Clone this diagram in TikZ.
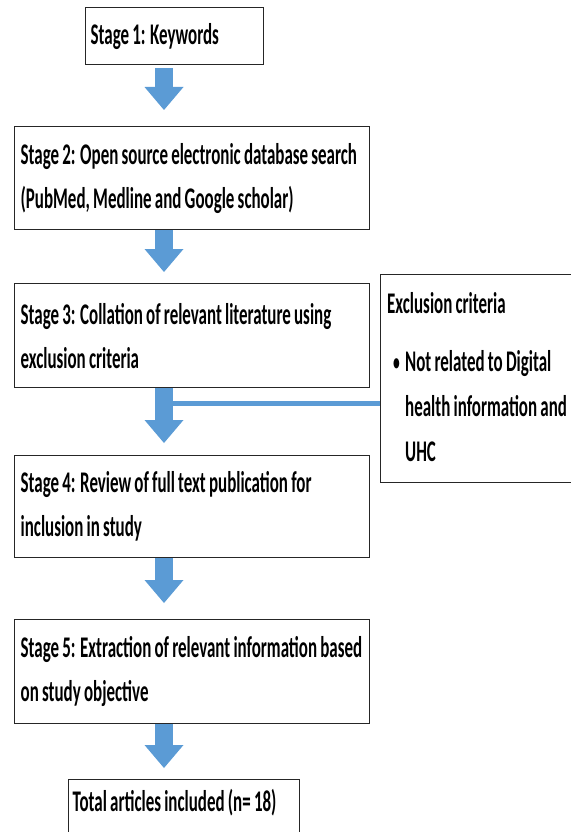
\documentclass[tikz,border=0pt]{standalone}
\usepackage{fontspec}
\setmainfont{Carlito}[FakeStretch=0.565, WordSpace=0.85]
\usepackage{tikz}
\usetikzlibrary{arrows.meta, positioning, calc}
\definecolor{flowblue}{RGB}{91,155,213}

\tikzset{
	stage/.style={draw=black!85, line width=1.3pt, anchor=north west, align=flush left, inner xsep=6pt, inner ysep=0pt, font=\bfseries\fontsize{30}{44}\selectfont},
	extext/.style={inner sep=0pt, anchor=base west, align=left, font=\bfseries\fontsize{30}{45}\selectfont},
	flow/.style={flowblue, line width=18pt, -{Triangle[width=39pt, length=23pt, line width=0pt]}, shorten >=#1},
	flow/.default=12pt,
	exline/.style={flowblue, line width=5pt}
}

\begin{document}
\begin{tikzpicture}[x=1pt, y=-1pt]
	\useasboundingbox (0,0) rectangle (570,832);
	%stages
	\node[stage, text width=168pt, inner xsep=5pt, minimum height=57pt] (s1) at (85,7) {Stage 1: Keywords};
	\node[stage, text width=343pt, minimum height=103pt] (s2) at (14,126) {Stage 2: Open source electronic database search\\(PubMed, Medline and Google scholar)};
	\node[stage, text width=343pt, minimum height=104pt] (s3) at (14,283) {Stage 3: Collation of relevant literature using\\exclusion criteria};
	\node[stage, text width=343pt, minimum height=102pt] (s4) at (14,455) {Stage 4: Review of full text publication for\\inclusion in study};
	\node[stage, text width=343pt, minimum height=104pt] (s5) at (14,619) {Stage 5: Extraction of relevant information based\\on study objective};
	\node[stage, text width=223pt, inner xsep=4pt, minimum height=56pt, text depth=14pt] (total) at (68,779) {Total articles included (n= 18)};
	%exclusion box
	\node[draw=black!85, line width=1.3pt, anchor=north west, minimum width=195pt, minimum height=208pt] (ex) at (380,274) {};
	\node[extext] (exhead) at ($(ex.north west)+(7,39)$) {Exclusion criteria};
	\node[extext, font=\bfseries\fontsize{24}{45}\selectfont] (bullet) at ($(exhead.base west)+(6,57)$) {\textbullet};
	\node[extext] (exitem) at ($(exhead.base west)+(18,148)$) {Not related to Digital\\health information and\\UHC};
	%arrows
	\coordinate (ax) at (164,0);
	\draw[flow=16pt, shorten <=3pt] (s1.south -| ax) -- (s2.north -| ax);
	\draw[flow=11pt] (s2.south -| ax) -- (s3.north -| ax);
	\draw[flow=12pt] (s3.south -| ax) -- (s4.north -| ax);
	\draw[flow=16pt] (s4.south -| ax) -- (s5.north -| ax);
	\draw[flow=11pt] (s5.south -| ax) -- (total.north -| ax);
	%line to exclusion
	\draw[exline] ($(s3.south -| ax)+(0,15)$) coordinate (join) -- (join -| ex.west);
\end{tikzpicture}
\end{document}
